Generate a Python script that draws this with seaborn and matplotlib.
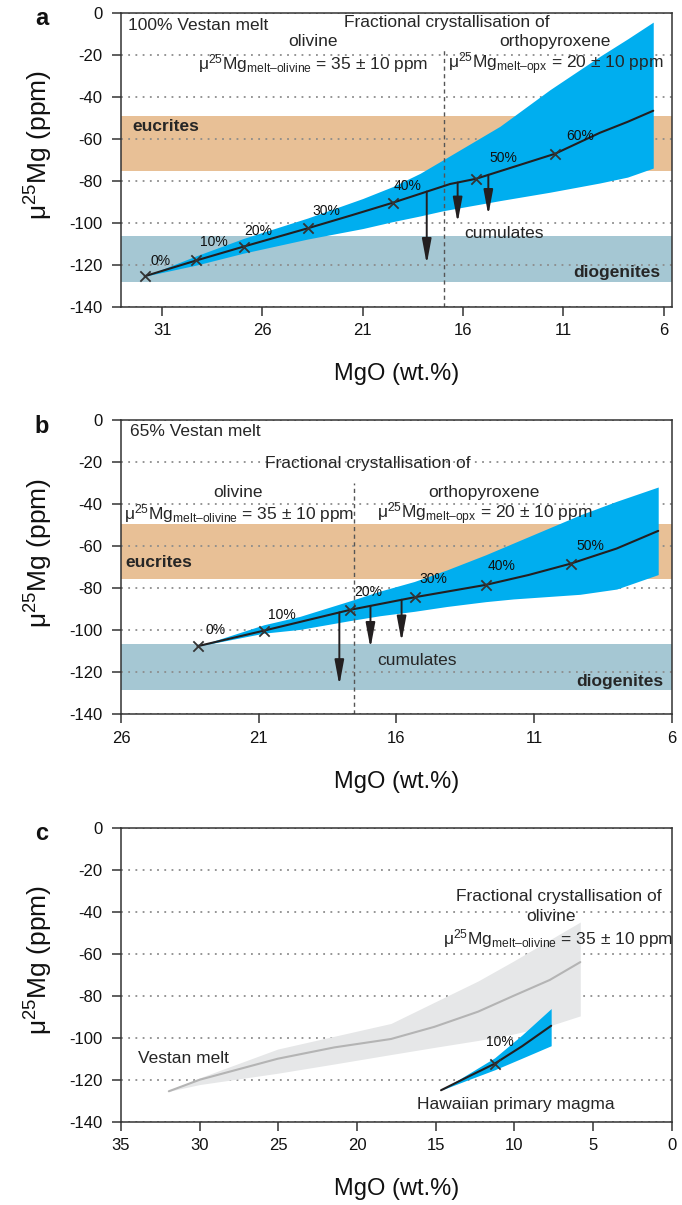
import matplotlib
matplotlib.use('Agg')
import matplotlib.pyplot as plt
import seaborn as sns

# ---------------- data ----------------
y_ticks = [0, -20, -40, -60, -80, -100, -120, -140]
eucrite_range = [-49.1, -75.6]
diogenite_range = [-106.4, -128.2]

# panel a : 100% Vestan melt
a_xticks = [31, 26, 21, 16, 11, 6]
a_pct = ['0%', '10%', '20%', '30%', '40%', '50%', '60%']
a_mark_mgo = [31.87, 29.3, 26.94, 23.75, 19.5, 15.35, 11.42]
a_mark_mu = [-125.5, -118.0, -111.4, -102.7, -90.5, -79.1, -67.2]
a_lab_mgo = [31.07, 28.4, 26.2, 22.8, 18.75, 13.99, 10.17]
a_lab_mu = [-118.3, -109.3, -103.9, -94.5, -82.7, -69.3, -58.8]
a_line_mgo = [31.87, 29.3, 26.94, 23.75, 21.6, 19.5, 16.65, 15.35, 13.4, 11.42, 9.18, 7.8, 6.52]
a_line_mu = [-125.5, -118.0, -111.4, -102.7, -96.6, -90.5, -81.6, -79.1, -73.2, -67.2, -57.2, -52.0, -46.7]
a_band_mgo = [31.87, 29.3, 26.94, 23.75, 21.0, 19.5, 18.14, 16.98, 14.16, 11.67, 9.18, 7.8, 6.52]
a_band_hi = [-125.5, -115.8, -107.5, -97.8, -88.5, -82.8, -76.5, -70.0, -54.1, -36.7, -20.8, -12.5, -4.5]
a_band_lo = [-125.5, -120.2, -114.5, -107.8, -102.8, -99.5, -96.8, -94.3, -89.5, -85.5, -81.1, -78.3, -74.0]
a_arrow_mgo = [17.81, 16.27, 14.74]
a_arrow_top = [-85.2, -80.9, -77.2]
a_arrow_tip = [-119.7, -100.0, -96.4]
a_split_mgo = 16.96
a_split_top = -17.5

# panel b : 65% Vestan melt
b_xticks = [26, 21, 16, 11, 6]
b_pct = ['0%', '10%', '20%', '30%', '40%', '50%']
b_mark_mgo = [23.22, 20.81, 17.68, 15.34, 12.75, 9.67]
b_mark_mu = [-107.5, -100.1, -90.2, -84.2, -78.3, -68.2]
b_lab_mgo = [22.56, 20.16, 17.02, 14.64, 12.18, 8.94]
b_lab_mu = [-99.6, -92.6, -81.6, -75.4, -69.1, -60.0]
b_line_mgo = [23.22, 20.81, 17.68, 15.34, 12.75, 11.2, 9.67, 8.0, 6.49]
b_line_mu = [-107.5, -100.1, -90.2, -84.2, -78.3, -73.6, -68.2, -61.0, -52.6]
b_band_mgo = [23.22, 20.81, 19.5, 17.68, 16.6, 15.35, 14.17, 12.76, 11.75, 9.33, 8.0, 6.49]
b_band_hi = [-107.5, -97.3, -93.3, -85.9, -81.3, -76.7, -71.2, -64.0, -58.4, -45.0, -38.5, -31.7]
b_band_lo = [-107.5, -101.3, -99.5, -95.3, -93.0, -90.9, -88.6, -86.3, -85.0, -82.8, -80.3, -73.4]
b_arrow_mgo = [18.07, 16.94, 15.81]
b_arrow_top = [-91.4, -88.3, -85.4]
b_arrow_tip = [-126.1, -108.4, -105.3]
b_split_mgo = 17.53
b_split_top = -30.0

# panel c : Vestan melt vs Hawaiian primary magma
c_xticks = [35, 30, 25, 20, 15, 10, 5, 0]
c_vesta_mgo = [31.96, 30.0, 25.04, 21.44, 17.84, 15.08, 12.31, 10.1, 7.75, 5.81]
c_vesta_mu = [-125.5, -120.0, -110.0, -104.6, -100.6, -94.8, -87.6, -80.2, -72.5, -64.0]
c_vesta_hi = [-125.5, -119.1, -105.4, -99.3, -93.2, -83.1, -73.0, -63.7, -53.4, -44.9]
c_vesta_lo = [-125.5, -122.3, -116.9, -112.5, -108.0, -104.6, -101.3, -98.3, -94.3, -89.6]
c_haw_mgo = [14.66, 13.0, 11.26, 9.5, 7.66]
c_haw_mu = [-125.0, -118.8, -112.4, -104.0, -94.3]
c_haw_hi = [-125.0, -117.5, -109.6, -98.6, -86.1]
c_haw_lo = [-125.0, -120.2, -115.3, -109.7, -103.8]
c_mark_mgo = [11.26]
c_mark_mu = [-112.4]
c_pct = ['10%']
c_lab_mgo = [10.93]
c_lab_mu = [-102.2]

# ---------------- style ----------------
sns.set_theme(style='white')
plt.rcParams['font.family'] = ['Liberation Sans', 'DejaVu Sans']
plt.rcParams['axes.unicode_minus'] = False
plt.rcParams['mathtext.fontset'] = 'custom'
plt.rcParams['mathtext.rm'] = 'Liberation Sans'
plt.rcParams['mathtext.it'] = 'Liberation Sans:italic'
plt.rcParams['mathtext.bf'] = 'Liberation Sans:bold'
plt.rcParams['mathtext.sf'] = 'Liberation Sans'

BLUE = '#00aeef'
EUC = '#e8c096'
DIO = '#a5c7d3'
GRID = '#8c8c8c'
INK = '#231f20'
SPINE = '#333333'
TXT = 12.5

F_OL = 'μ$^{25}$Mg$_{\\mathrm{melt\u2013olivine}}$ = 35 ± 10 ppm'
F_OPX = 'μ$^{25}$Mg$_{\\mathrm{melt\u2013opx}}$ = 20 ± 10 ppm'

fig = plt.figure(figsize=(6.82, 12.05), dpi=100)
left, width, height = 0.1774, 0.8075, 0.244
ax_a = fig.add_axes([left, 0.7455, width, height])
ax_b = fig.add_axes([left, 0.4071, width, height])
ax_c = fig.add_axes([left, 0.0691, width, height])


def style_axes(ax, xlim, xticks):
    ax.set_xlim(*xlim)
    ax.set_ylim(-140, 0)
    ax.set_xticks(xticks)
    ax.set_yticks(y_ticks)
    ax.tick_params(axis='both', which='major', bottom=True, left=True, top=False, right=False,
                   direction='out', length=6.5, width=1.1, color=SPINE, labelsize=12,
                   labelcolor='#111111')
    ax.tick_params(axis='x', pad=5.5)
    ax.tick_params(axis='y', pad=7.0)
    for s in ax.spines.values():
        s.set_visible(True)
        s.set_linewidth(1.1)
        s.set_color(SPINE)
    ax.set_axisbelow('line')
    ax.yaxis.grid(True, linestyle=(0, (1, 3)), linewidth=1.3, color=GRID)
    ax.xaxis.grid(False)
    ax.set_xlabel('MgO (wt.%)', fontsize=17, color='#111111')
    ax.xaxis.set_label_coords(0.5, -0.193)
    ax.set_ylabel('μ$^{25}$Mg (ppm)', fontsize=19, va='center', color='#111111')
    ax.yaxis.set_label_coords(-0.149, 0.55)


def model_panel(ax, band_x, band_hi, band_lo, line_x, line_y, mk_x, mk_y, lab_x, lab_y, pct,
                arr_x, arr_top, arr_tip, split_x, split_top):
    ax.axhspan(eucrite_range[1], eucrite_range[0], color=EUC, lw=0, zorder=0.9)
    ax.axhspan(diogenite_range[1], diogenite_range[0], color=DIO, lw=0, zorder=0.9)
    ax.fill_between(band_x, band_lo, band_hi, color=BLUE, lw=0, zorder=1.8)
    ax.plot([split_x, split_x], [-140, split_top], color='#555555', lw=1.0,
            linestyle=(0, (3, 2.5)), zorder=2.5)
    sns.lineplot(x=line_x, y=line_y, ax=ax, color=INK, lw=1.5, sort=False,
                 estimator=None, zorder=3)
    sns.scatterplot(x=mk_x, y=mk_y, ax=ax, marker='x', s=55, color='#333333',
                    linewidth=1.3, legend=False, zorder=4)
    for x, y, t in zip(lab_x, lab_y, pct):
        ax.text(x, y, t, fontsize=10, ha='center', va='center', color='#111111', zorder=5)
    for x, y0, y1 in zip(arr_x, arr_top, arr_tip):
        ax.annotate('', xy=(x, y1), xytext=(x, y0),
                    arrowprops=dict(arrowstyle='-|>,head_length=0.75,head_width=0.14',
                                    mutation_scale=20, lw=1.4, color=INK,
                                    shrinkA=0, shrinkB=0), zorder=4)


# ---------------- panel a ----------------
style_axes(ax_a, (33.05, 5.6), a_xticks)
model_panel(ax_a, a_band_mgo, a_band_hi, a_band_lo, a_line_mgo, a_line_mu,
            a_mark_mgo, a_mark_mu, a_lab_mgo, a_lab_mu, a_pct,
            a_arrow_mgo, a_arrow_top, a_arrow_tip, a_split_mgo, a_split_top)
ax_a.text(32.68, -5.9, '100% Vestan melt', fontsize=TXT, ha='left', va='center', zorder=5)
ax_a.text(16.81, -4.9, 'Fractional crystallisation of', fontsize=TXT, ha='center', va='center', zorder=5)
ax_a.text(23.47, -13.9, 'olivine', fontsize=TXT, ha='center', va='center', zorder=5)
ax_a.text(11.42, -13.9, 'orthopyroxene', fontsize=TXT, ha='center', va='center', zorder=5)
ax_a.text(23.47, -26.8, F_OL, fontsize=TXT, ha='center', va='baseline', zorder=5)
ax_a.text(11.38, -26.8, F_OPX, fontsize=TXT, ha='center', va='baseline', zorder=5)
ax_a.text(32.47, -54.3, 'eucrites', fontsize=TXT, fontweight='bold', ha='left', va='center', zorder=5)
ax_a.text(13.96, -105.0, 'cumulates', fontsize=TXT, ha='center', va='center', zorder=5)
ax_a.text(6.14, -123.9, 'diogenites', fontsize=TXT, fontweight='bold', ha='right', va='center', zorder=5)

# ---------------- panel b ----------------
style_axes(ax_b, (26, 6), b_xticks)
model_panel(ax_b, b_band_mgo, b_band_hi, b_band_lo, b_line_mgo, b_line_mu,
            b_mark_mgo, b_mark_mu, b_lab_mgo, b_lab_mu, b_pct,
            b_arrow_mgo, b_arrow_top, b_arrow_tip, b_split_mgo, b_split_top)
ax_b.text(25.68, -5.5, '65% Vestan melt', fontsize=TXT, ha='left', va='center', zorder=5)
ax_b.text(17.03, -20.5, 'Fractional crystallisation of', fontsize=TXT, ha='center', va='center', zorder=5)
ax_b.text(21.75, -34.5, 'olivine', fontsize=TXT, ha='center', va='center', zorder=5)
ax_b.text(12.82, -34.5, 'orthopyroxene', fontsize=TXT, ha='center', va='center', zorder=5)
ax_b.text(21.71, -47.0, F_OL, fontsize=TXT, ha='center', va='baseline', zorder=5)
ax_b.text(12.79, -47.0, F_OPX, fontsize=TXT, ha='center', va='baseline', zorder=5)
ax_b.text(25.84, -67.6, 'eucrites', fontsize=TXT, fontweight='bold', ha='left', va='center', zorder=5)
ax_b.text(15.26, -114.5, 'cumulates', fontsize=TXT, ha='center', va='center', zorder=5)
ax_b.text(6.32, -124.1, 'diogenites', fontsize=TXT, fontweight='bold', ha='right', va='center', zorder=5)

# ---------------- panel c ----------------
style_axes(ax_c, (35, 0), c_xticks)
ax_c.fill_between(c_vesta_mgo, c_vesta_lo, c_vesta_hi, color='#e6e7e8', lw=0, zorder=1.8)
sns.lineplot(x=c_vesta_mgo, y=c_vesta_mu, ax=ax_c, color='#b4b4b4', lw=1.5, sort=False,
             estimator=None, zorder=3)
ax_c.fill_between(c_haw_mgo, c_haw_lo, c_haw_hi, color=BLUE, lw=0, zorder=1.9)
sns.lineplot(x=c_haw_mgo, y=c_haw_mu, ax=ax_c, color=INK, lw=1.5, sort=False,
             estimator=None, zorder=3)
sns.scatterplot(x=c_mark_mgo, y=c_mark_mu, ax=ax_c, marker='x', s=55, color='#333333',
                linewidth=1.3, legend=False, zorder=4)
for x, y, t in zip(c_lab_mgo, c_lab_mu, c_pct):
    ax_c.text(x, y, t, fontsize=10, ha='center', va='center', color='#111111', zorder=5)
ax_c.text(7.2, -32.7, 'Fractional crystallisation of', fontsize=TXT, ha='center', va='center', zorder=5)
ax_c.text(7.64, -42.5, 'olivine', fontsize=TXT, ha='center', va='center', zorder=5)
ax_c.text(7.22, -55.6, F_OL, fontsize=TXT, ha='center', va='baseline', zorder=5)
ax_c.text(33.9, -110.1, 'Vestan melt', fontsize=TXT, ha='left', va='center', zorder=5)
ax_c.text(16.18, -131.7, 'Hawaiian primary magma', fontsize=TXT, ha='left', va='center', zorder=5)

# panel letters
for lab, yb in zip(['a', 'b', 'c'], [0.9793, 0.6407, 0.3033]):
    fig.text(0.061, yb, lab, fontsize=17, fontweight='bold', ha='center', va='baseline',
             color='#111111')

fig.savefig('out.png', dpi=100)
